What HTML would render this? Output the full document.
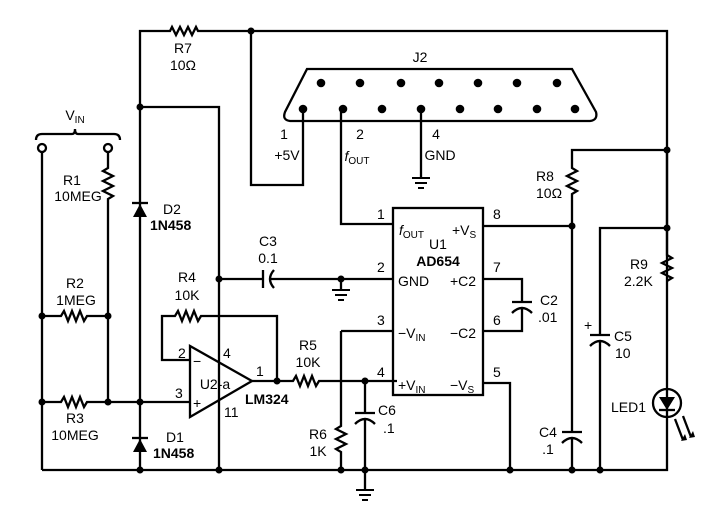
<!DOCTYPE html>
<html><head><meta charset="utf-8"><style>
body{margin:0;background:#fff}
svg{display:block}
text{font-family:"Liberation Sans",sans-serif;font-size:14px;fill:#000}
.b{font-weight:bold}
.s{font-size:10px}
</style></head><body>
<svg width="716" height="512" viewBox="0 0 716 512" xmlns="http://www.w3.org/2000/svg">
<g fill="none" stroke="#000" stroke-width="2.3" stroke-linejoin="miter">
<polyline points="140,470 140,31 170,31 172,27 176,35 180,27 184,35 188,27 192,35 196,27 198,31 667,31 667,470 42,470"/>
<polyline points="140,107 219,107 219,470"/>
<path d="M36,140 Q36,134 42,134 L72,134 Q75,134 75,129 Q75,134 78,134 L114,134 Q120,134 120,140"/>
<line x1="42" y1="152" x2="42" y2="470"/>
<polyline points="108,152 108,168 103,171 113,176 103,181 113,186 103,191 113,196 108,199 108,402"/>
<polyline points="42,316 61,316 64,311 68,321 72,311 76,321 80,311 84,321 87,316 108,316"/>
<polyline points="42,402 61,402 64,397 68,407 72,397 76,407 80,397 84,407 87,402 190,402"/>
<polygon points="190,346 190,417 252,381"/>
<polyline points="190,360 162,360 162,316 175,316 178,311 182,321 186,311 190,321 194,311 198,321 201,316 277,316 277,381"/>
<polyline points="252,381 293,381 296,376 300,386 304,376 308,386 312,376 316,386 319,381 397,381"/>
<polyline points="341,331 341,426 336,429 346,434 336,439 346,444 336,449 341,452 341,470"/>
<line x1="341" y1="331" x2="393" y2="331"/>
<polyline points="365,381 365,413"/>
<line x1="355" y1="413" x2="375" y2="413"/>
<path d="M355,424 Q365,414 375,424"/>
<line x1="365" y1="419" x2="365" y2="490"/>
<line x1="219" y1="279" x2="263" y2="279"/>
<line x1="263" y1="270" x2="263" y2="288"/>
<path d="M274,270 Q266,279 274,288"/>
<line x1="269" y1="279" x2="393" y2="279"/>
<line x1="341" y1="279" x2="341" y2="290"/>
<rect x="393" y="208" width="90" height="187"/>
<polyline points="393,224 341,224 341,109"/>
<polyline points="483,226 572,226"/>
<polyline points="483,279 522,279 522,302"/>
<line x1="512" y1="302" x2="532" y2="302"/>
<path d="M512,313 Q522,303 532,313"/>
<polyline points="522,308 522,331 483,331"/>
<polyline points="483,383 510,383 510,470"/>
<polyline points="667,150 572,150 572,168 577,171 567,176 577,181 567,186 577,191 572,194 572,432"/>
<line x1="562" y1="432" x2="582" y2="432"/>
<path d="M562,443 Q572,433 582,443"/>
<line x1="572" y1="438" x2="572" y2="470"/>
<polyline points="667,228 600,228 600,335"/>
<line x1="590" y1="335" x2="610" y2="335"/>
<path d="M590,346 Q600,336 610,346"/>
<line x1="600" y1="341" x2="600" y2="470"/>
<polyline points="667,150 667,255 672,258 662,263 672,268 662,273 672,278 667,281"/>
<circle cx="667" cy="403" r="14"/>
<line x1="659" y1="410" x2="675" y2="410"/>
<line x1="675" y1="419" x2="683" y2="440"/><line x1="683" y1="416" x2="691" y2="437"/>
<path d="M307,69 L572,69 L596,112 Q598,120 590,121 L290,121 Q282,120 285,112 Z"/>
<polyline points="303,109 303,185 251,185 251,31"/>
<line x1="421" y1="109" x2="421" y2="178"/>
<g stroke-width="2"><line x1="412" y1="178" x2="430" y2="178"/><line x1="415" y1="183" x2="427" y2="183"/><line x1="418" y1="188" x2="424" y2="188"/>
<line x1="332" y1="290" x2="350" y2="290"/><line x1="335" y1="295" x2="347" y2="295"/><line x1="338" y1="300" x2="344" y2="300"/>
<line x1="356" y1="490" x2="374" y2="490"/><line x1="359" y1="495" x2="371" y2="495"/><line x1="362" y1="500" x2="368" y2="500"/></g>
<circle cx="42" cy="148" r="4" fill="#fff"/><circle cx="108" cy="148" r="4" fill="#fff"/>
</g>
<g fill="#000">
<polygon points="133,217 147,217 140,204"/><line x1="132" y1="203" x2="148" y2="203" stroke="#000" stroke-width="2.3"/>
<polygon points="133,452 147,452 140,439"/><line x1="132" y1="438" x2="148" y2="438" stroke="#000" stroke-width="2.3"/>
<polygon points="659,397 675,397 667,410"/>
<polygon points="681,441 687,440 685,434"/><polygon points="689,438 695,437 693,431"/>
<circle cx="251" cy="31" r="3.5"/><circle cx="140" cy="107" r="3.5"/><circle cx="140" cy="402" r="3.5"/><circle cx="140" cy="470" r="3.5"/>
<circle cx="42" cy="316" r="3.5"/><circle cx="108" cy="316" r="3.5"/><circle cx="42" cy="402" r="3.5"/><circle cx="108" cy="402" r="3.5"/>
<circle cx="219" cy="279" r="3.5"/><circle cx="219" cy="470" r="3.5"/><circle cx="277" cy="381" r="3.5"/><circle cx="341" cy="279" r="3.5"/>
<circle cx="365" cy="381" r="3.5"/><circle cx="341" cy="470" r="3.5"/><circle cx="365" cy="470" r="3.5"/><circle cx="510" cy="470" r="3.5"/>
<circle cx="572" cy="470" r="3.5"/><circle cx="600" cy="470" r="3.5"/><circle cx="572" cy="226" r="3.5"/><circle cx="667" cy="150" r="3.5"/><circle cx="667" cy="228" r="3.5"/>
<circle cx="321" cy="83" r="4.3"/><circle cx="360" cy="83" r="4.3"/><circle cx="401" cy="83" r="4.3"/><circle cx="439" cy="83" r="4.3"/><circle cx="478" cy="83" r="4.3"/><circle cx="517" cy="83" r="4.3"/><circle cx="557" cy="83" r="4.3"/>
<circle cx="303" cy="109" r="4.3"/><circle cx="343" cy="109" r="4.3"/><circle cx="382" cy="109" r="4.3"/><circle cx="421" cy="109" r="4.3"/><circle cx="460" cy="109" r="4.3"/><circle cx="498" cy="109" r="4.3"/><circle cx="537" cy="109" r="4.3"/><circle cx="575" cy="109" r="4.3"/>
</g>
<g text-anchor="middle">
<text x="183" y="53">R7</text><text x="183" y="70">10Ω</text>
<text x="420" y="62">J2</text>
<text x="75" y="120">V<tspan class="s" dy="3">IN</tspan></text>
<text x="284" y="139">1</text><text x="287" y="160">+5V</text>
<text x="360" y="139">2</text><text x="357" y="161"><tspan font-style="italic">f</tspan><tspan class="s" dy="3">OUT</tspan></text>
<text x="436" y="139">4</text><text x="440" y="160">GND</text>
<text x="72" y="185">R1</text><text x="78" y="201">10MEG</text>
<text x="268" y="246">C3</text><text x="268" y="263">0.1</text>
<text x="75" y="288">R2</text><text x="76" y="305">1MEG</text>
<text x="187" y="282">R4</text><text x="187" y="300">10K</text>
<text x="308" y="350">R5</text><text x="308" y="367">10K</text>
<text x="75" y="423">R3</text><text x="75" y="440">10MEG</text>
<text x="318" y="439">R6</text><text x="318" y="456">1K</text>
<text x="548" y="437">C4</text><text x="548" y="454">.1</text>
<text x="438" y="249">U1</text><text x="438" y="266" class="b">AD654</text>
<text x="215" y="389">U2-a</text>
</g>
<text x="178" y="358">2</text><text x="223" y="358">4</text><text x="256" y="376">1</text><text x="175" y="398">3</text><text x="224" y="417">11</text>
<text x="193" y="366" font-size="16">−</text><text x="193" y="408" font-size="16">+</text>
<text x="245" y="404" class="b">LM324</text>
<text x="163" y="214">D2</text><text x="150" y="230" class="b">1N458</text>
<text x="166" y="442">D1</text><text x="153" y="458" class="b">1N458</text>
<text x="378" y="415">C6</text><text x="383" y="433">.1</text>
<text x="377" y="219">1</text><text x="377" y="272">2</text><text x="377" y="325">3</text><text x="377" y="377">4</text>
<text x="493" y="219">8</text><text x="493" y="272">7</text><text x="493" y="325">6</text><text x="493" y="377">5</text>
<text x="399" y="235"><tspan font-style="italic">f</tspan><tspan class="s" dy="3">OUT</tspan></text>
<text x="398" y="286">GND</text>
<text x="398" y="338">−V<tspan class="s" dy="3">IN</tspan></text>
<text x="398" y="390">+V<tspan class="s" dy="3">IN</tspan></text>
<text x="452" y="235">+V<tspan class="s" dy="3">S</tspan></text>
<text x="450" y="286">+C2</text>
<text x="450" y="338">−C2</text>
<text x="450" y="390">−V<tspan class="s" dy="3">S</tspan></text>
<text x="540" y="305">C2</text><text x="538" y="322">.01</text>
<text x="536" y="181">R8</text><text x="536" y="198">10Ω</text>
<text x="630" y="269">R9</text><text x="624" y="286">2.2K</text>
<text x="584" y="330">+</text><text x="614" y="341">C5</text><text x="615" y="358">10</text>
<text x="611" y="412">LED1</text>
</svg>
</body></html>
